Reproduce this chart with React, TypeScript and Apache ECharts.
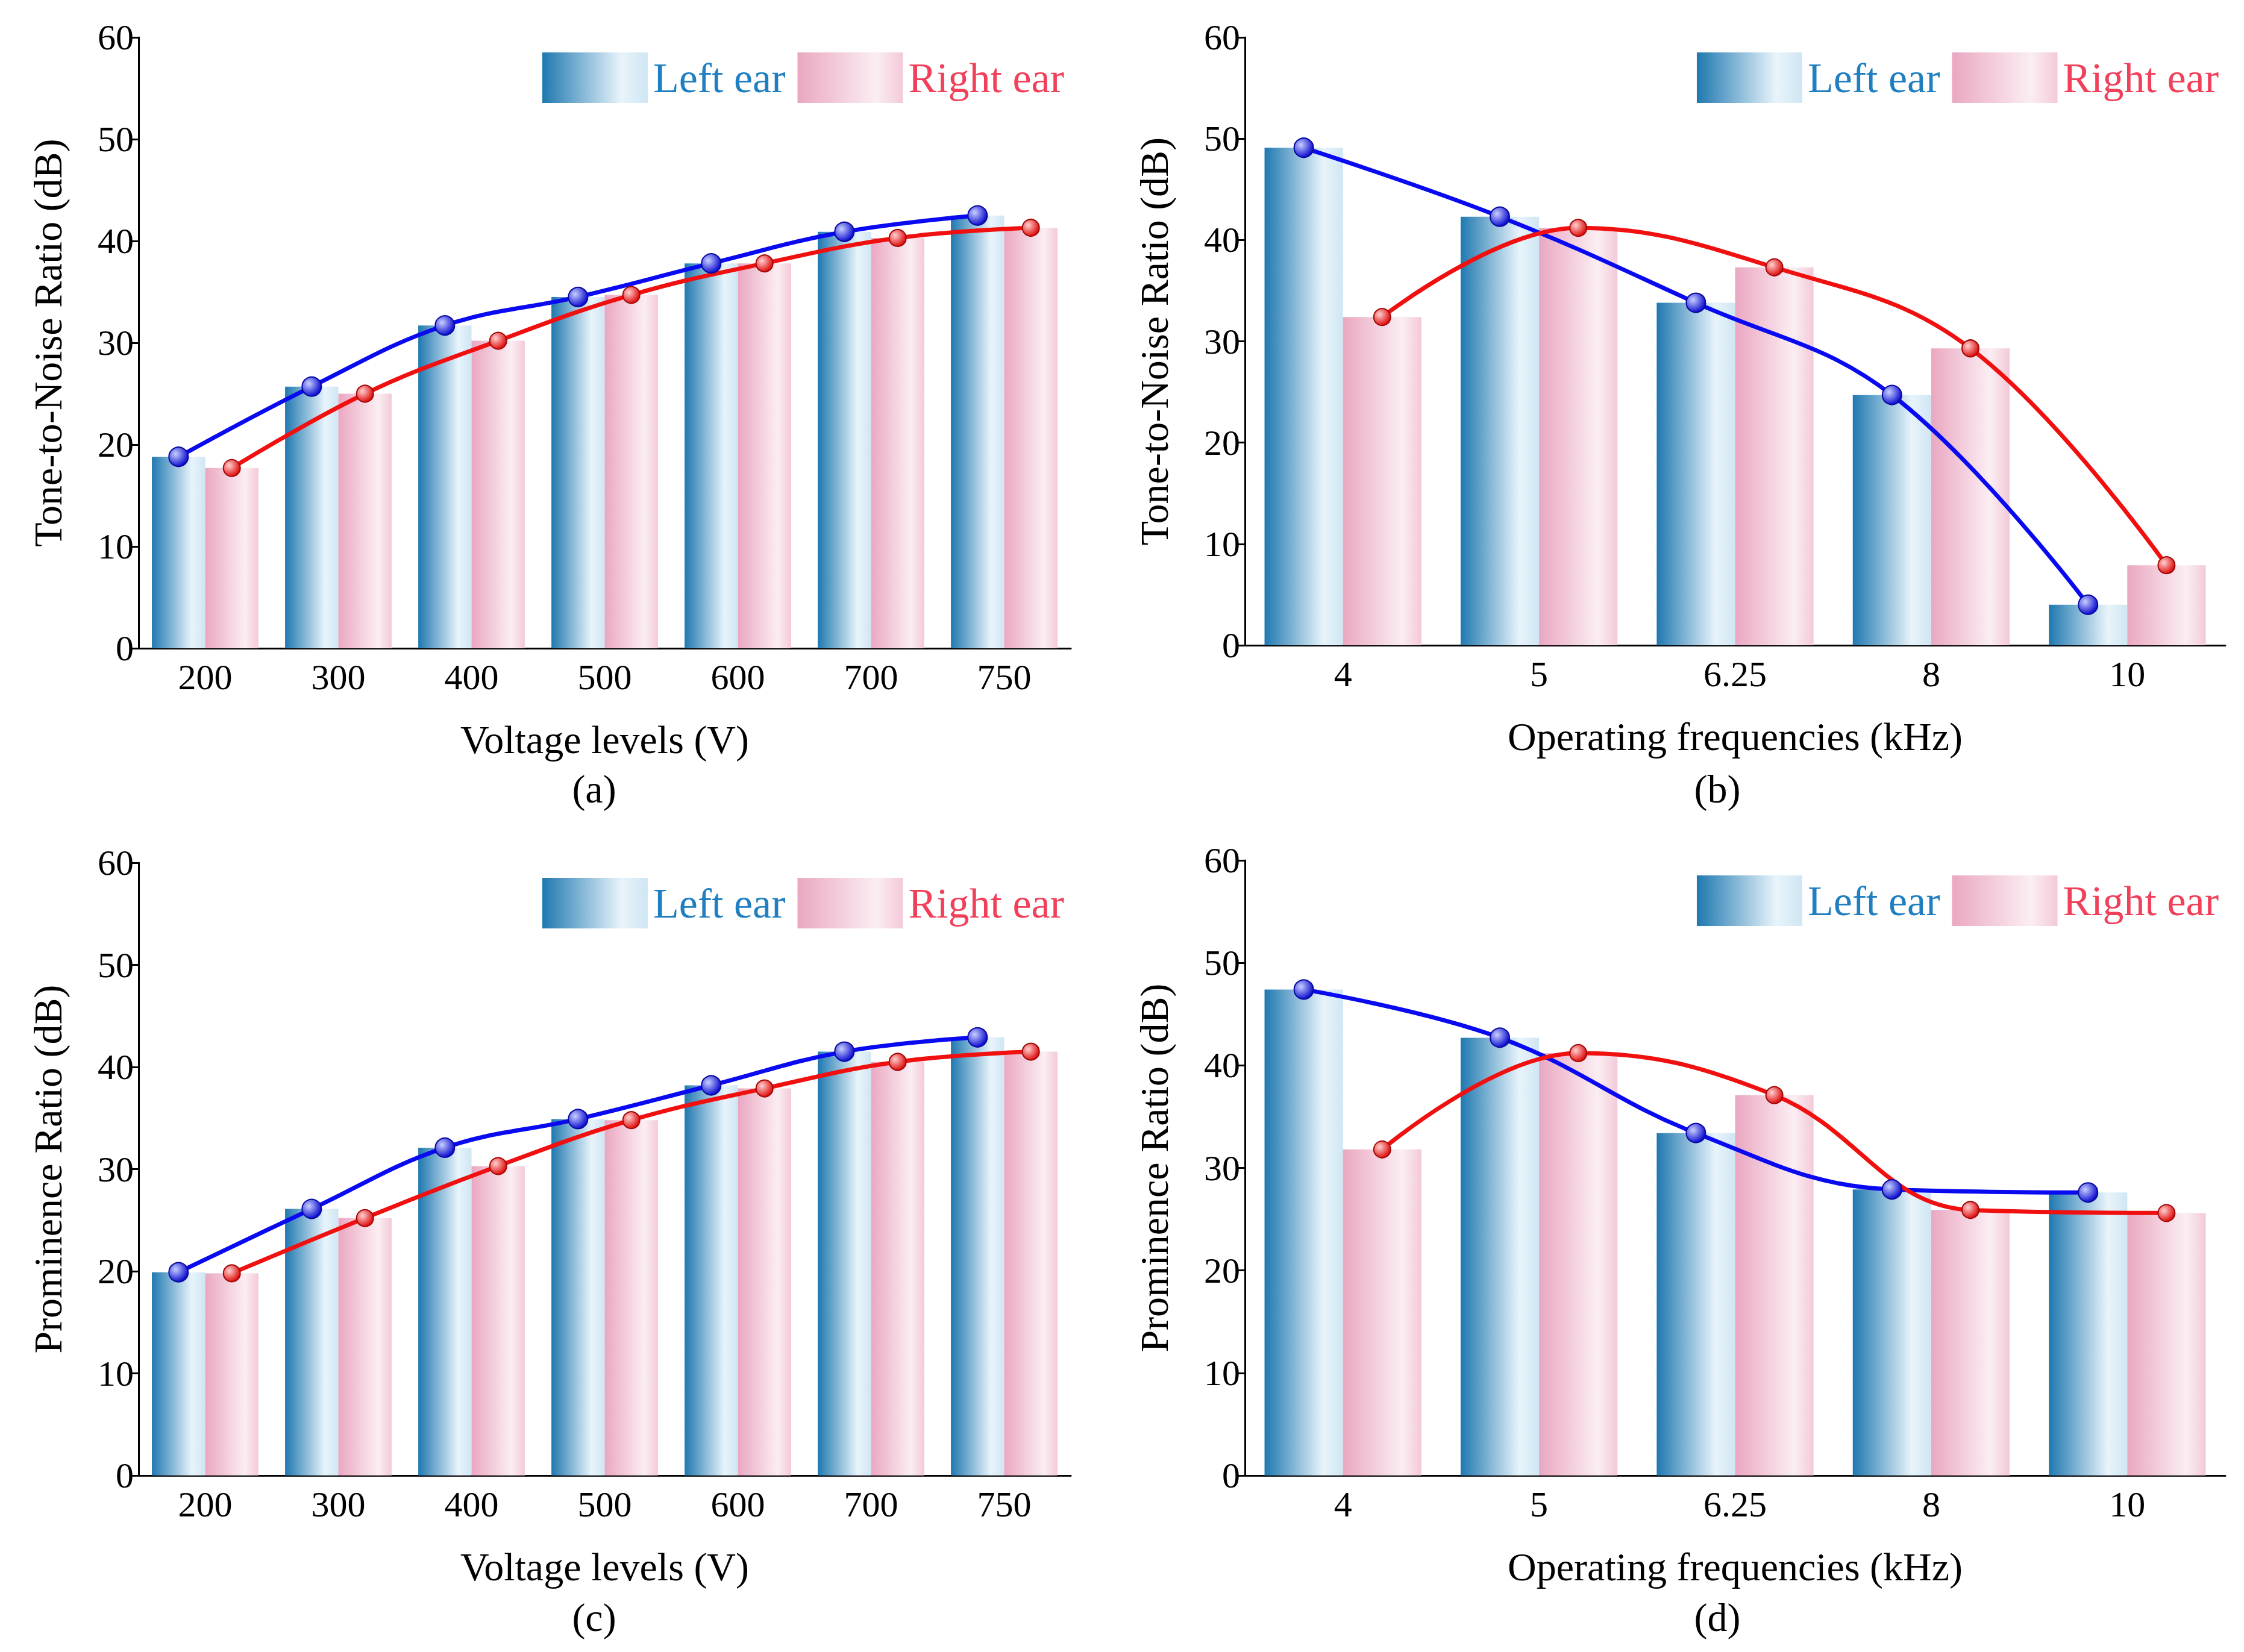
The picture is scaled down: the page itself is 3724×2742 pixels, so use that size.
import { useEffect, useRef } from "react";
import * as echarts from "echarts";

const voltCats = ["200", "300", "400", "500", "600", "700", "750"];
const freqCats = ["4", "5", "6.25", "8", "10"];

const tnrVoltLeft = [18.8, 25.7, 31.7, 34.5, 37.8, 40.9, 42.5];
const tnrVoltRight = [17.7, 25.0, 30.2, 34.7, 37.8, 40.3, 41.3];
const tnrFreqLeft = [49.1, 42.3, 33.8, 24.7, 4.0];
const tnrFreqRight = [32.4, 41.2, 37.3, 29.3, 7.9];
const prVoltLeft = [19.9, 26.1, 32.1, 34.9, 38.2, 41.5, 42.9];
const prVoltRight = [19.8, 25.2, 30.3, 34.8, 37.9, 40.5, 41.5];
const prFreqLeft = [47.4, 42.7, 33.4, 27.9, 27.6];
const prFreqRight = [31.8, 41.2, 37.1, 25.9, 25.6];

const FONT = "Liberation Serif";
const BLUE = "#1f7fc0";
const RED = "#f0405a";

const blueGrad = new echarts.graphic.LinearGradient(0, 0, 1, 0, [
  { offset: 0, color: "#1f78b0" },
  { offset: 0.75, color: "#e8f4fb" },
  { offset: 1, color: "#cfe6f3" },
]);
const pinkGrad = new echarts.graphic.LinearGradient(0, 0, 1, 0, [
  { offset: 0, color: "#eaa7c1" },
  { offset: 0.75, color: "#fbeef3" },
  { offset: 1, color: "#f3c9d8" },
]);
const ball = (c: string, light: string) =>
  new echarts.graphic.RadialGradient(0.35, 0.35, 0.65, [
    { offset: 0, color: light },
    { offset: 1, color: c },
  ]);

const panels = [
  { cats: voltCats, left: tnrVoltLeft, right: tnrVoltRight, grid: { left: 230, top: 62, width: 1547, height: 1014 }, xName: "Voltage levels (V)", yName: "Tone-to-Noise Ratio (dB)", tag: "(a)", tagX: 986, tagY: 1309 },
  { cats: freqCats, left: tnrFreqLeft, right: tnrFreqRight, grid: { left: 2066, top: 62, width: 1627, height: 1009 }, xName: "Operating frequencies (kHz)", yName: "Tone-to-Noise Ratio (dB)", tag: "(b)", tagX: 2850, tagY: 1309 },
  { cats: voltCats, left: prVoltLeft, right: prVoltRight, grid: { left: 230, top: 1432, width: 1547, height: 1017 }, xName: "Voltage levels (V)", yName: "Prominence Ratio (dB)", tag: "(c)", tagX: 986, tagY: 2684 },
  { cats: freqCats, left: prFreqLeft, right: prFreqRight, grid: { left: 2066, top: 1428, width: 1627, height: 1021 }, xName: "Operating frequencies (kHz)", yName: "Prominence Ratio (dB)", tag: "(d)", tagX: 2850, tagY: 2684 },
];

export default function App() {
  const ref = useRef<HTMLDivElement>(null);

  useEffect(() => {
    document.body.style.margin = "0";
    if (!ref.current) return;
    const chart = echarts.init(ref.current, null, { renderer: "svg" });

    const grid: any[] = [];
    const xAxis: any[] = [];
    const yAxis: any[] = [];
    const series: any[] = [];
    const legend: any[] = [];
    const graphic: any[] = [];
    const axisCommon = {
      axisLine: { onZero: false, lineStyle: { color: "#000", width: 3 } },
      axisTick: { lineStyle: { color: "#000", width: 3 }, length: 12 },
      axisLabel: { color: "#000", fontFamily: FONT, fontSize: 60 },
      splitLine: { show: false },
    };

    panels.forEach((p, i) => {
      grid.push(p.grid);
      const n = p.cats.length;
      xAxis.push({
        type: "category", gridIndex: i, data: p.cats, ...axisCommon,
        axisTick: { ...axisCommon.axisTick, alignWithLabel: true },
        axisLabel: { ...axisCommon.axisLabel, margin: 18 },
        name: p.xName, nameLocation: "middle", nameGap: 118,
        nameTextStyle: { color: "#000", fontFamily: FONT, fontSize: 66 },
      });
      xAxis.push({ type: "value", gridIndex: i, min: -0.5, max: n - 0.5, show: false });
      yAxis.push({
        type: "value", gridIndex: i, min: 0, max: 60, interval: 10, ...axisCommon,
        name: p.yName, nameLocation: "middle", nameGap: 118,
        nameTextStyle: { color: "#000", fontFamily: FONT, fontSize: 66 },
      });
      const xi = i * 2;
      series.push(
        { type: "bar", name: "Left ear", xAxisIndex: xi, yAxisIndex: i, data: p.left, barGap: "0%", barCategoryGap: "20%", itemStyle: { color: blueGrad } },
        { type: "bar", name: "Right ear", xAxisIndex: xi, yAxisIndex: i, data: p.right, itemStyle: { color: pinkGrad } },
        { type: "line", xAxisIndex: xi + 1, yAxisIndex: i, smooth: 0.4, symbol: "circle", symbolSize: 32, z: 5,
          data: p.left.map((v, k) => [k - 0.2, v]),
          lineStyle: { color: "#0a0af0", width: 7 },
          itemStyle: { color: ball("#1010d0", "#c8d0ff"), borderColor: "#0808a0", borderWidth: 2 } },
        { type: "line", xAxisIndex: xi + 1, yAxisIndex: i, smooth: 0.4, symbol: "circle", symbolSize: 28, z: 5,
          data: p.right.map((v, k) => [k + 0.2, v]),
          lineStyle: { color: "#f01010", width: 7 },
          itemStyle: { color: ball("#e01010", "#ffd0d0"), borderColor: "#a00808", borderWidth: 2 } },
      );
      legend.push({
        right: 3724 - (p.grid.left + p.grid.width) + 6,
        top: p.grid.top + 20,
        itemWidth: 175, itemHeight: 84, itemGap: 20,
        icon: "rect",
        data: [
          { name: "Left ear", textStyle: { color: BLUE } },
          { name: "Right ear", textStyle: { color: RED } },
        ],
        textStyle: { fontFamily: FONT, fontSize: 70, padding: [0, 0, 0, 4] },
        selectedMode: false,
      });
      graphic.push({
        type: "text", x: p.tagX, y: p.tagY,
        style: { text: p.tag, fontFamily: FONT, fontSize: 66, fill: "#000", align: "center", verticalAlign: "middle" },
      });
    });

    chart.setOption({
      animation: false,
      backgroundColor: "#fff",
      grid, xAxis, yAxis, series, legend, graphic,
    });
    return () => chart.dispose();
  }, []);

  return <div ref={ref} style={{ width: 3724, height: 2742 }} />;
}
